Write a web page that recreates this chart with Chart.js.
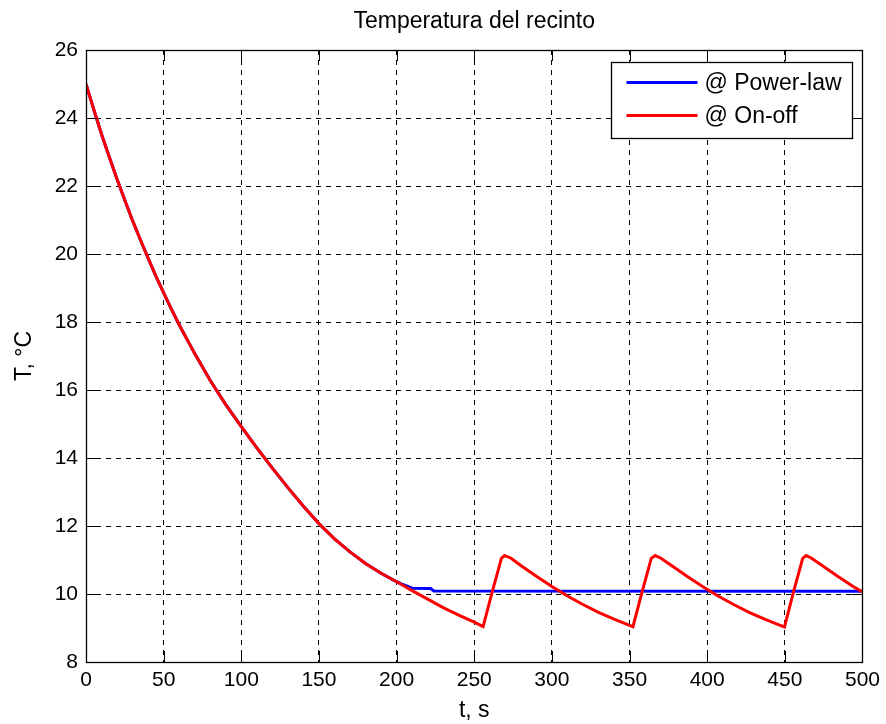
<!DOCTYPE html>
<html>
<head>
<meta charset="utf-8">
<script src="https://cdn.jsdelivr.net/npm/chart.js@4"></script>
<style>
  html, body { margin: 0; padding: 0; background: #fff; }
  #lienzo { display: block; }
</style>
</head>
<body>
<canvas id="lienzo" width="886" height="724"></canvas>
<script>
// Enfriamiento común a ambos controladores (s, °C)
const tEnfriamiento = [0, 5, 10, 15, 20, 25, 30, 35, 40, 45, 50, 55, 60, 70, 80, 90, 100, 110, 120, 130, 140, 150, 160, 170, 180, 190];
const TEnfriamiento = [25.0, 24.25, 23.52, 22.85, 22.2, 21.58, 20.98, 20.42, 19.88, 19.35, 18.86, 18.38, 17.92, 17.07, 16.28, 15.57, 14.92, 14.3, 13.7, 13.13, 12.58, 12.07, 11.62, 11.24, 10.9, 10.61];

// Controlador todo/nada: ciclos de histéresis
const tOnOff = [200, 210, 220, 230, 240, 250, 255.7,
                261.5, 267.5, 269.5, 273.5, 280, 290, 300, 310, 320, 330, 340, 350, 352.2,
                358, 364, 366.5, 370, 377, 387, 397, 407, 417, 427, 437, 447, 449.8,
                455.5, 461.5, 463.7, 467, 474, 484, 494, 500];
const TOnOff = [10.36, 10.1, 9.85, 9.6, 9.38, 9.17, 9.04,
                10.05, 11.05, 11.13, 11.06, 10.84, 10.52, 10.22, 9.94, 9.69, 9.46, 9.26, 9.08, 9.04,
                10.05, 11.05, 11.13, 11.06, 10.84, 10.52, 10.22, 9.94, 9.69, 9.46, 9.26, 9.08, 9.03,
                10.05, 11.05, 11.13, 11.06, 10.84, 10.52, 10.22, 10.06];

// Controlador de ley de potencia: se estabiliza cerca de la consigna
const tPotencia = [198, 203, 208, 210, 222, 224, 500];
const TPotencia = [10.41, 10.3, 10.21, 10.17, 10.16, 10.09, 10.08];

// Ejes
const xTicks = [0, 50, 100, 150, 200, 250, 300, 350, 400, 450, 500];
const yTicks = [8, 10, 12, 14, 16, 18, 20, 22, 24, 26];

const TITULO = 'Temperatura del recinto';
const FUENTE = '"Liberation Sans", Arial, Helvetica, sans-serif';
const TICK_LEN = 11;

const puntos = (ts, vs) => ts.map((t, i) => ({ x: t, y: vs[i] }));

const serieOnOff = puntos(tEnfriamiento.concat(tOnOff), TEnfriamiento.concat(TOnOff));
const seriePotencia = puntos(tEnfriamiento.concat(tPotencia), TEnfriamiento.concat(TPotencia));

// Título, marco de ejes, marcas interiores y leyenda
const marcoPlugin = {
  id: 'marco',
  afterDatasetsDraw(chart) {
    const { ctx, chartArea: a, scales: { x, y } } = chart;
    ctx.save();
    ctx.setLineDash([]);
    ctx.strokeStyle = '#000';
    ctx.lineWidth = 1;

    ctx.beginPath();
    xTicks.forEach(v => {
      const px = Math.round(x.getPixelForValue(v)) + 0.5;
      ctx.moveTo(px, a.bottom); ctx.lineTo(px, a.bottom - TICK_LEN);
      ctx.moveTo(px, a.top); ctx.lineTo(px, a.top + TICK_LEN);
    });
    yTicks.forEach(v => {
      const py = Math.round(y.getPixelForValue(v)) + 0.5;
      ctx.moveTo(a.left, py); ctx.lineTo(a.left + TICK_LEN, py);
      ctx.moveTo(a.right, py); ctx.lineTo(a.right - TICK_LEN, py);
    });
    ctx.stroke();

    ctx.lineWidth = 1.3;
    ctx.strokeRect(Math.round(a.left) + 0.5, Math.round(a.top) + 0.5,
                   Math.round(a.right - a.left), Math.round(a.bottom - a.top));

    // Título centrado sobre el área de trazado
    ctx.fillStyle = '#000';
    ctx.font = '23px ' + FUENTE;
    ctx.textAlign = 'center';
    ctx.textBaseline = 'middle';
    ctx.fillText(TITULO, (a.left + a.right) / 2, 22);

    // Leyenda
    const bx = Math.round(a.right - 251) + 0.5;
    const by = Math.round(a.top + 12) + 0.5;
    const bw = 241, bh = 76;
    ctx.fillStyle = '#fff';
    ctx.fillRect(bx, by, bw, bh);
    ctx.lineWidth = 1.3;
    ctx.strokeRect(bx, by, bw, bh);

    const filas = [chart.data.datasets[1], chart.data.datasets[0]];
    ctx.font = '23px ' + FUENTE;
    ctx.textBaseline = 'middle';
    ctx.textAlign = 'left';
    filas.forEach((ds, i) => {
      const yy = by + 20 + i * 33;
      ctx.strokeStyle = ds.borderColor;
      ctx.lineWidth = 3;
      ctx.beginPath();
      ctx.moveTo(bx + 15, yy);
      ctx.lineTo(bx + 86, yy);
      ctx.stroke();
      ctx.fillStyle = '#000';
      ctx.fillText(ds.label, bx + 93, yy + 1);
    });
    ctx.restore();
  }
};

new Chart(document.getElementById('lienzo'), {
  type: 'line',
  data: {
    datasets: [
      {
        label: '@ On-off',
        data: serieOnOff,
        borderColor: '#ff0000',
        borderWidth: 3,
        pointRadius: 0,
        tension: 0,
        fill: false,
        order: 1
      },
      {
        label: '@ Power-law',
        data: seriePotencia,
        borderColor: '#0000ff',
        borderWidth: 3,
        pointRadius: 0,
        tension: 0,
        fill: false,
        order: 2
      }
    ]
  },
  options: {
    responsive: false,
    animation: false,
    devicePixelRatio: 1,
    layout: { padding: { left: 0, right: 23, top: 50, bottom: 0 } },
    plugins: {
      legend: { display: false },
      tooltip: { enabled: false },
      title: { display: false }
    },
    scales: {
      x: {
        type: 'linear',
        min: 0,
        max: 500,
        afterBuildTicks(s) { s.ticks = xTicks.map(v => ({ value: v })); },
        ticks: { color: '#000', font: { family: FUENTE, size: 21 }, padding: 6, maxRotation: 0, autoSkip: false },
        grid: { color: '#000', lineWidth: 1, drawTicks: false },
        border: { display: false, dash: [5, 5] },
        title: { display: true, text: 't, s', color: '#000', font: { family: FUENTE, size: 23 }, padding: { top: 0, bottom: 0 } },
        afterFit(s) { s.height = 62; }
      },
      y: {
        type: 'linear',
        min: 8,
        max: 26,
        afterBuildTicks(s) { s.ticks = yTicks.map(v => ({ value: v })); },
        ticks: { color: '#000', font: { family: FUENTE, size: 21 }, padding: 8, autoSkip: false },
        grid: { color: '#000', lineWidth: 1, drawTicks: false },
        border: { display: false, dash: [5, 5] },
        title: { display: true, text: 'T, °C', color: '#000', font: { family: FUENTE, size: 23 }, padding: { top: 11, bottom: 0 } },
        afterFit(s) { s.width = 86; }
      }
    }
  },
  plugins: [marcoPlugin]
});
</script>
</body>
</html>
